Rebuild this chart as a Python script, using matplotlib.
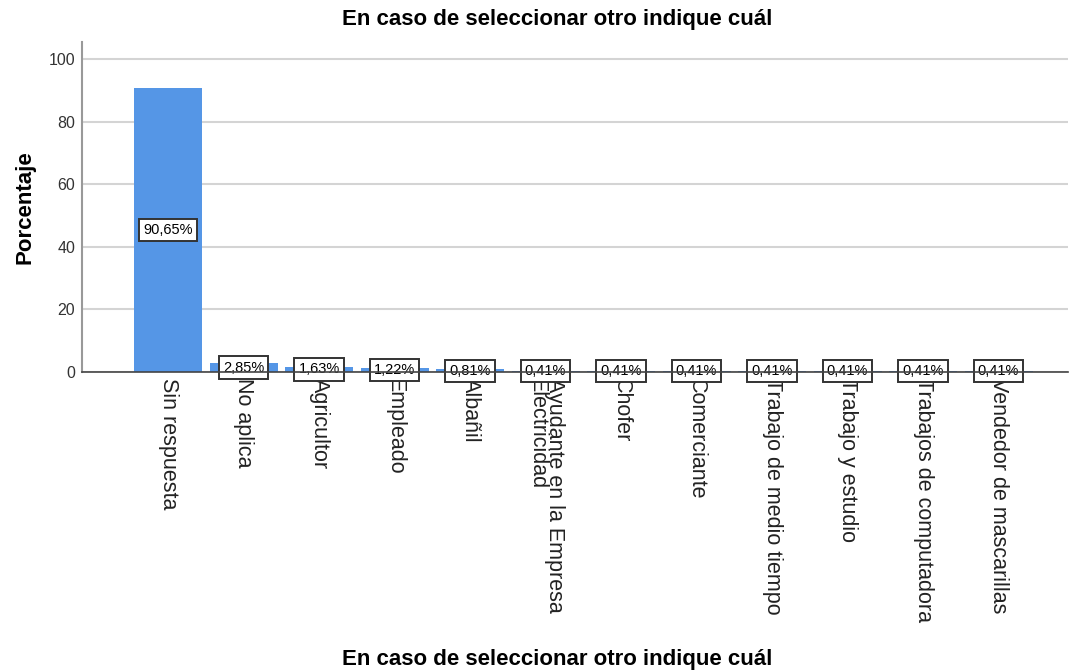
import matplotlib
matplotlib.use("Agg")
import matplotlib.pyplot as plt

plt.rcParams['font.family'] = ['Liberation Sans', 'DejaVu Sans']

# datos
categorias = ["Sin respuesta", "No aplica", "Agricultor", "Empleado", "Albañil",
              "Ayudante en la Empresa\nElectricidad", "Chofer", "Comerciante",
              "Trabajo de medio tiempo", "Trabajo y estudio",
              "Trabajos de computadora", "Vendedor de mascarillas"]
porcentajes = [90.65, 2.85, 1.63, 1.22, 0.81, 0.41, 0.41, 0.41, 0.41, 0.41, 0.41, 0.41]
etiquetas = ["90,65%", "2,85%", "1,63%", "1,22%", "0,81%", "0,41%", "0,41%",
             "0,41%", "0,41%", "0,41%", "0,41%", "0,41%"]
yticks = [0, 20, 40, 60, 80, 100]

titulo = "En caso de seleccionar otro indique cuál"

fig = plt.figure(figsize=(10.7, 6.7), dpi=100)
ax = fig.add_axes([82/1070, 1-372/670, (1068-82)/1070, (372-42)/670])

x = list(range(len(categorias)))
ax.bar(x, porcentajes, width=0.9, color='#5596e6', zorder=2)

for xi, v, t in zip(x, porcentajes, etiquetas):
    ax.text(xi, v/2, t, ha='center', va='center', fontsize=10.5, zorder=3,
            bbox=dict(boxstyle='square,pad=0.28', fc='white', ec='#333333', lw=1.4))

ax.set_xlim(-1.14, 11.92)
ax.set_ylim(0, 105.4)
ax.set_yticks(yticks)
ax.set_xticks(x)
ax.set_xticklabels(categorias, rotation=270, fontsize=15.5, va='top', ha='center',
                   linespacing=0.85)
for lab in ax.get_xticklabels():
    lab.set_multialignment('left')
ax.tick_params(axis='y', length=0, labelsize=11.5, colors='#333333', pad=5)
ax.tick_params(axis='x', length=0, pad=4, colors='#222222')

ax.grid(axis='y', color='#d4d4d4', lw=1.5, zorder=0)
ax.set_axisbelow(True)
for s in ['top', 'right']:
    ax.spines[s].set_visible(False)
ax.spines['left'].set_color('#999999')
ax.spines['left'].set_linewidth(1.5)
ax.spines['bottom'].set_color('#444444')
ax.spines['bottom'].set_linewidth(1.2)
ax.spines['bottom'].set_zorder(4)

ax.set_ylabel("Porcentaje", fontsize=16, fontweight='bold', labelpad=9)
fig.text(557/1070, 1-20/670, titulo, ha='center', va='center', fontsize=16, fontweight='bold')
fig.text(557/1070, 1-660/670, titulo, ha='center', va='center', fontsize=16, fontweight='bold')

fig.savefig("out.png", dpi=100, facecolor='white')
